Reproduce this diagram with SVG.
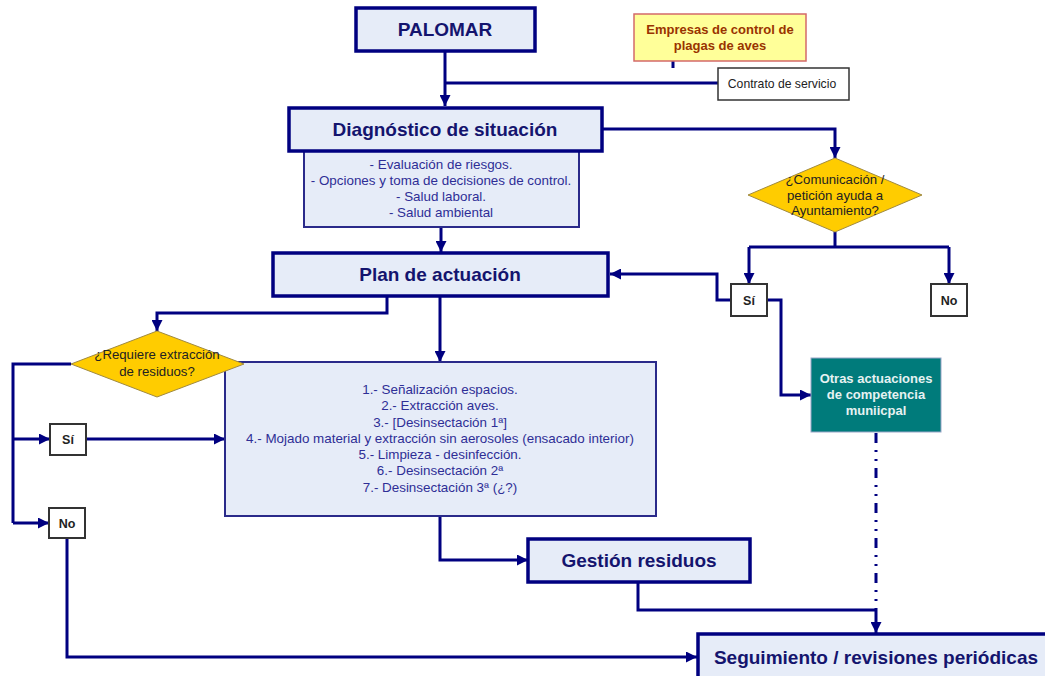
<svg xmlns="http://www.w3.org/2000/svg" width="1045" height="676" viewBox="0 0 1045 676">
<style>
.title{fill:#e6ecf8;stroke:#000080;stroke-width:3.5}
.sub{fill:#e6ecf8;stroke:#2a2a8a;stroke-width:2}
.tt{font-family:"Liberation Sans",Arial,sans-serif;font-weight:bold;font-size:19px;fill:#14146e;text-anchor:middle}
.st{font-family:"Liberation Sans",Arial,sans-serif;font-size:13.4px;fill:#2e2e96;text-anchor:middle}
.yn{fill:#ffffff;stroke:#333333;stroke-width:2}
.ynt{font-family:"Liberation Sans",Arial,sans-serif;font-weight:bold;font-size:12.5px;fill:#222222;text-anchor:middle}
.dia{fill:#ffcc00;stroke:#a08a40;stroke-width:1}
.dt{font-family:"Liberation Sans",Arial,sans-serif;font-size:13.2px;fill:#222222;text-anchor:middle}
.ot{font-family:"Liberation Sans",Arial,sans-serif;font-weight:bold;font-size:13px;fill:#e6f2f2;text-anchor:middle}
.et{font-family:"Liberation Sans",Arial,sans-serif;font-weight:bold;font-size:13px;fill:#993300;text-anchor:middle}
.c{fill:none;stroke:#000080;stroke-width:3}
</style>
<defs>
<marker id="arr" viewBox="0 0 10 10" refX="10" refY="5" markerWidth="11" markerHeight="11" markerUnits="userSpaceOnUse" orient="auto"><path d="M0,0 L10,5 L0,10 z" fill="#000080"/></marker>
</defs>
<g id="connectors">
<path class="c" d="M445,52 V106" marker-end="url(#arr)"/>
<path class="c" d="M673,61 V68"/>
<path class="c" d="M718,83 H445"/>
<path class="c" d="M603,129 H835 V158" marker-end="url(#arr)"/>
<path class="c" d="M441,227 V252" marker-end="url(#arr)"/>
<path class="c" d="M835,232 V247"/>
<path class="c" d="M749,247 H949"/>
<path class="c" d="M749,247 V284" marker-end="url(#arr)"/>
<path class="c" d="M949,247 V284" marker-end="url(#arr)"/>
<path class="c" d="M731,300 H717 V274 H610" marker-end="url(#arr)"/>
<path class="c" d="M767,300 H781 V395 H811" marker-end="url(#arr)"/>
<path fill="none" stroke="#000080" stroke-width="3" stroke-dasharray="10 7 2 7 2 7" d="M876,433 V610"/>
<path class="c" d="M387,297 V313 H157 V331" marker-end="url(#arr)"/>
<path class="c" d="M440,297 V362" marker-end="url(#arr)"/>
<path class="c" d="M71,364 H13 V523"/>
<path class="c" d="M13,439 H50" marker-end="url(#arr)"/>
<path class="c" d="M13,523 H49" marker-end="url(#arr)"/>
<path class="c" d="M86,439 H225" marker-end="url(#arr)"/>
<path class="c" d="M67,538 V657 H697" marker-end="url(#arr)"/>
<path class="c" d="M440,516 V560 H528" marker-end="url(#arr)"/>
<path class="c" d="M638,582 V610 H876"/>
<path class="c" d="M876,610 V633" marker-end="url(#arr)"/>
</g>
<g id="palomar">
<rect class="title" x="356" y="8" width="179" height="43"/>
<text class="tt" x="445" y="36">PALOMAR</text>
</g>
<g id="empresas">
<rect x="634" y="14" width="172" height="47" fill="#ffff99" stroke="#d46a6a" stroke-width="1.5"/>
<text class="et" x="720" y="34">Empresas de control de</text>
<text class="et" x="720" y="50">plagas de aves</text>
</g>
<g id="contrato">
<rect x="718" y="68" width="131" height="32" fill="#ffffff" stroke="#333333" stroke-width="1.5"/>
<text x="782" y="88" font-family="Liberation Sans, Arial, sans-serif" font-size="12.2px" fill="#222222" text-anchor="middle">Contrato de servicio</text>
</g>
<g id="diagnostico">
<rect class="sub" x="304" y="151" width="275" height="76"/>
<text class="st" x="441" y="169">- Evaluación de riesgos.</text>
<text class="st" x="441" y="185">- Opciones y toma de decisiones de control.</text>
<text class="st" x="441" y="201">- Salud laboral.</text>
<text class="st" x="441" y="217">- Salud ambiental</text>
<rect class="title" x="289" y="108" width="313" height="43"/>
<text class="tt" x="445" y="136">Diagnóstico de situación</text>
</g>
<g id="comunicacion">
<polygon class="dia" points="835,158 922,195 835,232 748,195"/>
<text class="dt" x="835" y="184">¿Comunicación /</text>
<text class="dt" x="835" y="200">petición ayuda a</text>
<text class="dt" x="835" y="215">Ayuntamiento?</text>
</g>
<g id="plan">
<rect class="title" x="273" y="253" width="335" height="43"/>
<text class="tt" x="440" y="281">Plan de actuación</text>
</g>
<g id="si-ayto">
<rect class="yn" x="731" y="284" width="36" height="32"/>
<text class="ynt" x="749" y="305">Sí</text>
</g>
<g id="no-ayto">
<rect class="yn" x="931" y="284" width="36" height="32"/>
<text class="ynt" x="949" y="305">No</text>
</g>
<g id="otras">
<rect x="811" y="358" width="130" height="74" fill="#007b7b" stroke="#9aa6c8" stroke-width="1"/>
<text class="ot" x="876" y="383">Otras actuaciones</text>
<text class="ot" x="876" y="399">de competencia</text>
<text class="ot" x="876" y="415">muniicpal</text>
</g>
<g id="acciones">
<rect class="sub" x="225" y="362" width="431" height="154"/>
<text class="st" x="440" y="394">1.- Señalización espacios.</text>
<text class="st" x="440" y="410">2.- Extracción aves.</text>
<text class="st" x="440" y="427">3.- [Desinsectación 1ª]</text>
<text class="st" x="440" y="443">4.- Mojado material y extracción sin aerosoles (ensacado interior)</text>
<text class="st" x="440" y="459">5.- Limpieza - desinfección.</text>
<text class="st" x="440" y="475">6.- Desinsectación 2ª</text>
<text class="st" x="440" y="492">7.- Desinsectación 3ª (¿?)</text>
</g>
<g id="requiere">
<polygon class="dia" points="157,331 244,364 157,397 71,364"/>
<text class="dt" x="157" y="359">¿Requiere extracción</text>
<text class="dt" x="157" y="376">de residuos?</text>
</g>
<g id="si-res">
<rect class="yn" x="50" y="424" width="36" height="31"/>
<text class="ynt" x="68" y="444">Sí</text>
</g>
<g id="no-res">
<rect class="yn" x="49" y="508" width="36" height="30"/>
<text class="ynt" x="67" y="528">No</text>
</g>
<g id="gestion">
<rect class="title" x="528" y="539" width="222" height="43"/>
<text class="tt" x="639" y="567">Gestión residuos</text>
</g>
<g id="seguimiento">
<rect class="title" x="698" y="634" width="360" height="50"/>
<text class="tt" x="876" y="664">Seguimiento / revisiones periódicas</text>
</g>
</svg>
